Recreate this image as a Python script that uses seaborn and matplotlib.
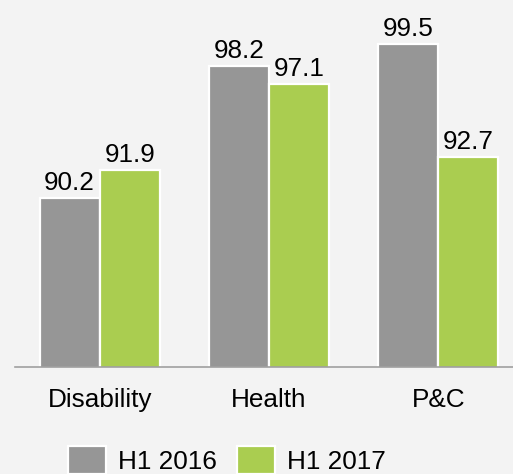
import pandas as pd
import seaborn as sns
import matplotlib.pyplot as plt

segments = ["Disability", "Health", "P&C"]
h1_2016 = [90.2, 98.2, 99.5]
h1_2017 = [91.9, 97.1, 92.7]
periods = ["H1 2016", "H1 2017"]

df = pd.DataFrame({
    "segment": segments * 2,
    "value": h1_2016 + h1_2017,
    "period": [periods[0]] * 3 + [periods[1]] * 3,
})

sns.set_style("white")
plt.rcParams['font.family'] = ['Liberation Sans', 'DejaVu Sans']
plt.rcParams['text.color'] = 'black'
plt.rcParams['xtick.color'] = 'black'

bg = "#f3f3f3"
fs = 18.8
fig = plt.figure(figsize=(5.13, 4.74), dpi=100, facecolor=bg)
ax = fig.add_axes([15 / 513, 107 / 474, 508 / 513, 331 / 474])
ax.set_facecolor(bg)

sns.barplot(data=df, x="segment", y="value", hue="period",
            palette=["#969696", "#aacd50"], width=0.71,
            edgecolor="white", linewidth=1.6, saturation=1, ax=ax)

ax.set_xlim(-0.5, 2.5)
ax.set_ylim(80, 100)
for c in ax.containers:
    ax.bar_label(c, fmt="%.1f", padding=2, fontsize=fs, color="black", clip_on=False)

ax.set_xlabel("")
ax.set_ylabel("")
ax.set_yticks([])
ax.tick_params(axis="x", length=0, pad=15, labelsize=fs, labelcolor="black")
for s in ["top", "left", "right"]:
    ax.spines[s].set_visible(False)
ax.spines["bottom"].set_color("#a0a0a0")
ax.spines["bottom"].set_linewidth(1.2)

handles, labels = ax.get_legend_handles_labels()
ax.get_legend().remove()
fig.legend(handles, labels, loc="center left", bbox_to_anchor=(68 / 513, 14 / 474),
           ncol=2, frameon=False, fontsize=fs, borderpad=0, borderaxespad=0,
           handlelength=1.45, handleheight=1.3, handletextpad=0.45, columnspacing=0.8)

fig.savefig("out.png", dpi=100, facecolor=bg)
